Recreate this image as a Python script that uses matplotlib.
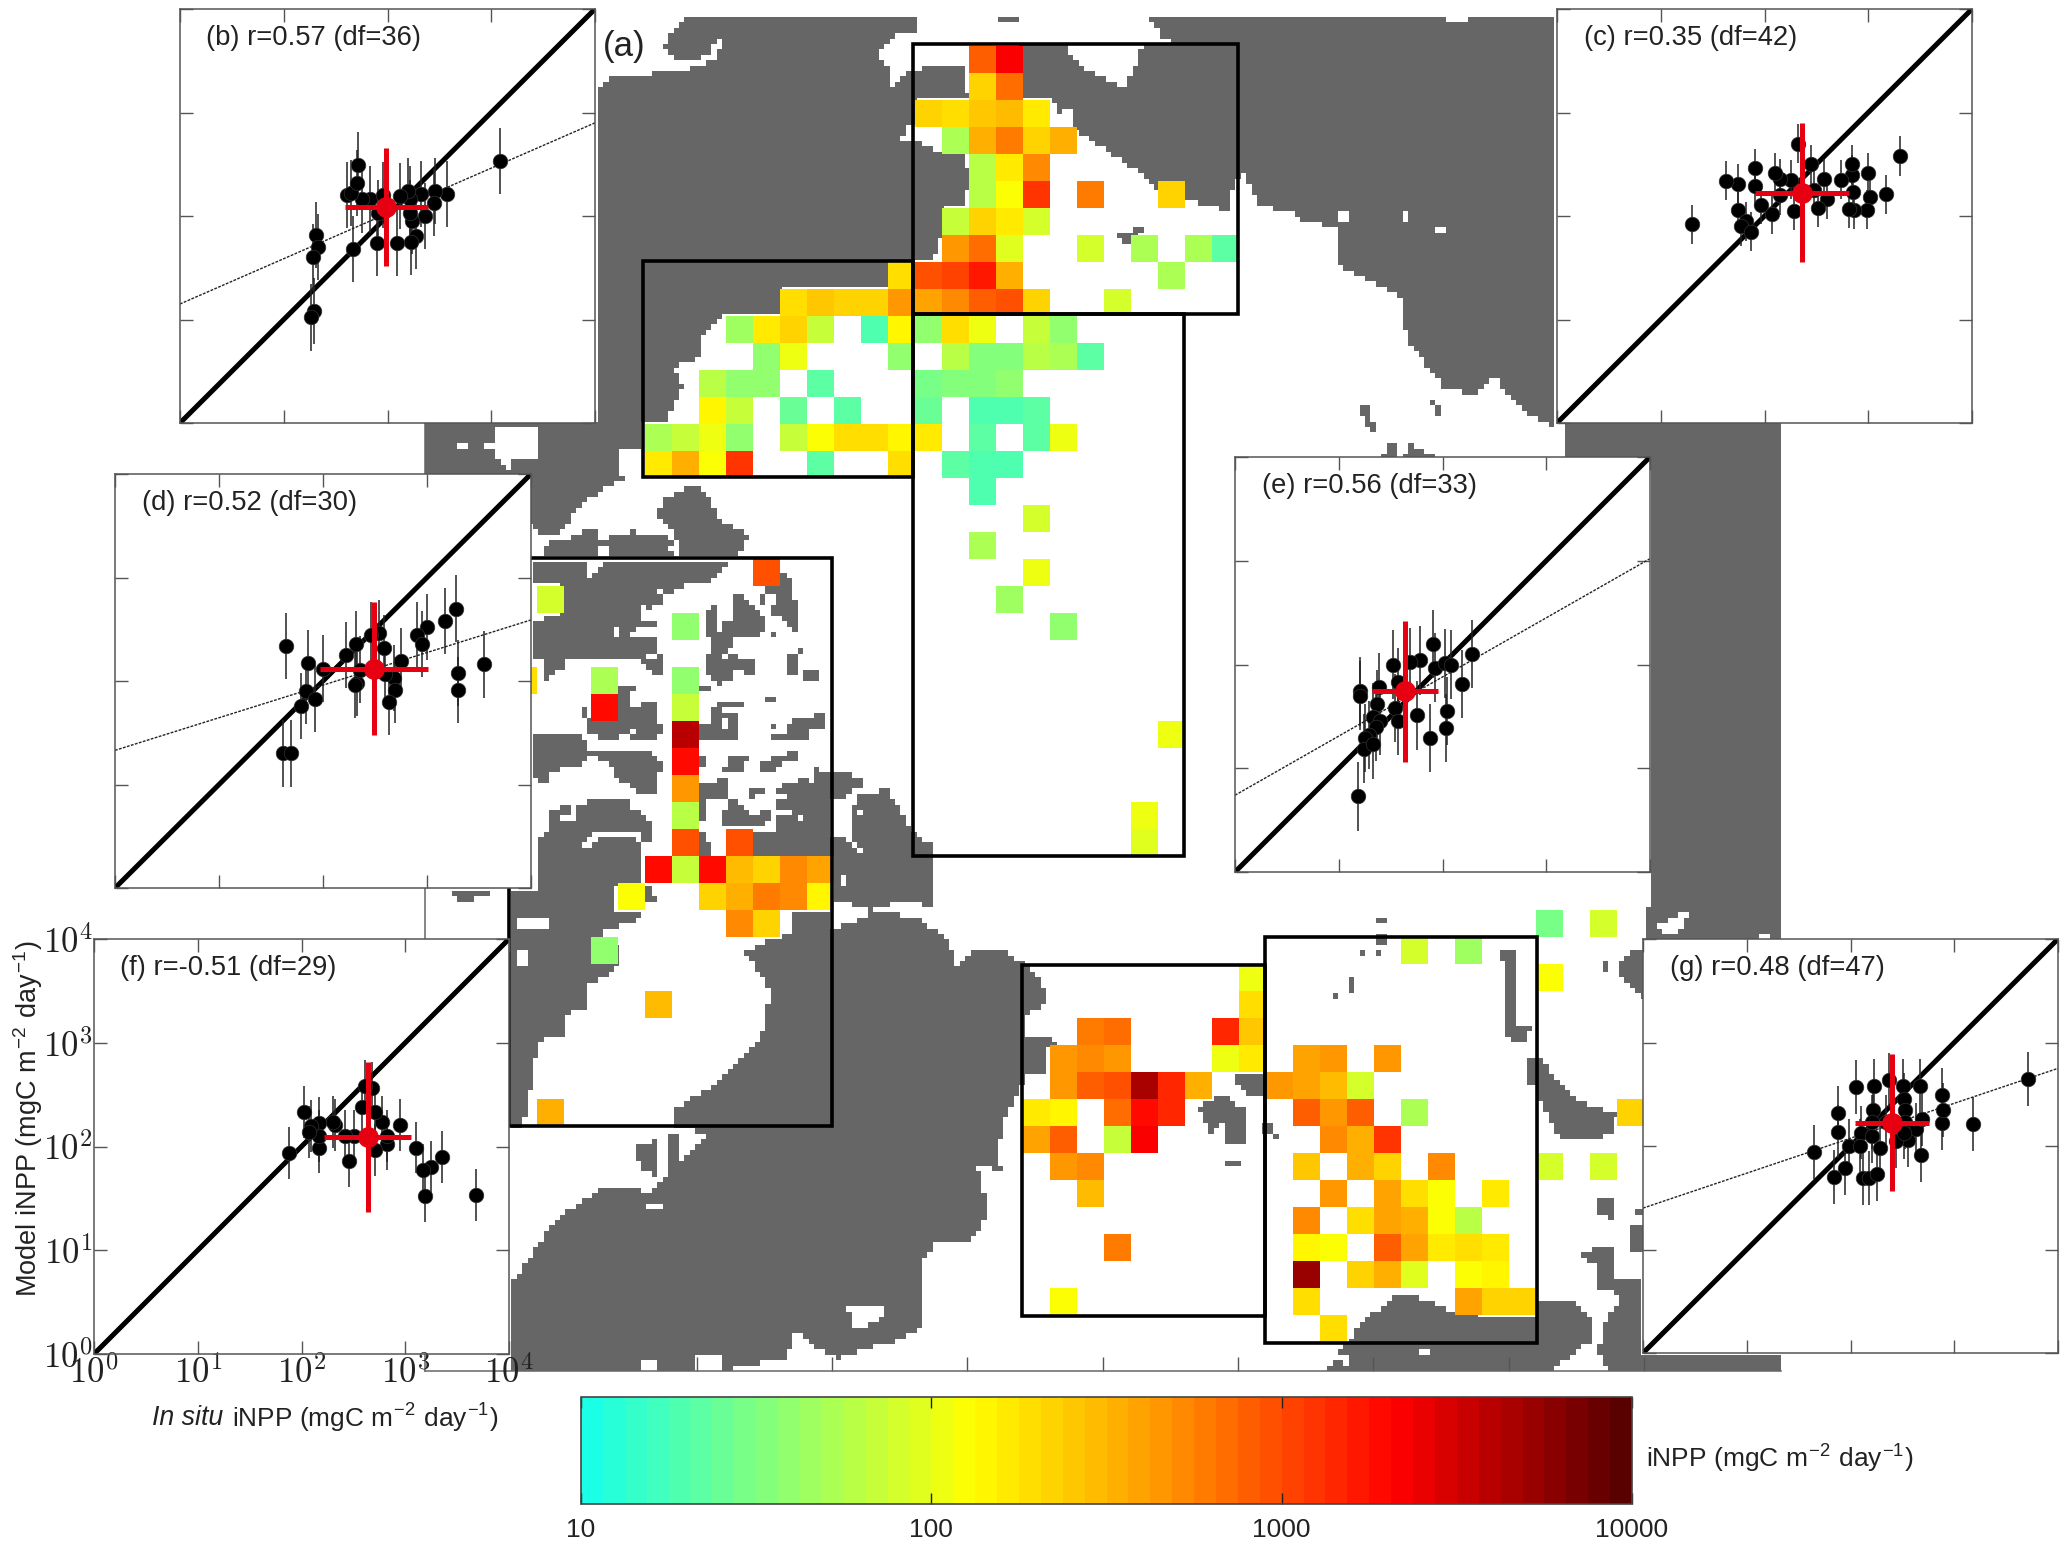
import numpy as np
import matplotlib
matplotlib.use("Agg")
import matplotlib.pyplot as plt
from matplotlib.colors import LinearSegmentedColormap, LogNorm, ListedColormap
from matplotlib.cm import ScalarMappable
from matplotlib.path import Path
from matplotlib.patches import Rectangle
from matplotlib.ticker import NullLocator, FixedLocator, FixedFormatter

plt.rcParams['font.family'] = ['Liberation Sans', 'DejaVu Sans']
plt.rcParams['mathtext.fontset'] = 'cm'

W, H = 2066, 1546

# -------- model grid cells: (column, row, iNPP) --------
CELLS = [
    (2, 0, 760), (3, 0, 2100),
    (2, 1, 224), (3, 1, 670),
    (0, 2, 224), (1, 2, 195), (2, 2, 245), (3, 2, 295), (4, 2, 170),
    (1, 3, 50), (2, 3, 365), (3, 3, 610), (4, 3, 224), (5, 3, 340),
    (2, 4, 60), (3, 4, 170), (4, 4, 540),
    (2, 5, 60), (3, 5, 125), (4, 5, 1200), (6, 5, 610), (9, 5, 224),
    (1, 6, 70), (2, 6, 224), (3, 6, 170), (4, 6, 80),
    (1, 7, 430), (2, 7, 670), (3, 7, 95), (6, 7, 85), (8, 7, 50), (10, 7, 55), (11, 7, 22),
    (-1, 8, 195), (0, 8, 990), (1, 8, 1100), (2, 8, 1700), (3, 8, 320), (9, 8, 50),
    (-5, 9, 195), (-4, 9, 255), (-3, 9, 224), (-2, 9, 224), (-1, 9, 430), (0, 9, 375),
    (1, 9, 510), (2, 9, 760), (3, 9, 870), (4, 9, 224), (7, 9, 75),
    (-7, 10, 48), (-6, 10, 170), (-5, 10, 224), (-4, 10, 70), (-2, 10, 20), (-1, 10, 147),
    (0, 10, 42), (1, 10, 195), (2, 10, 110), (4, 10, 70), (5, 10, 40),
    (-6, 11, 42), (-5, 11, 100), (-1, 11, 42), (1, 11, 60), (2, 11, 33), (3, 11, 33),
    (4, 11, 60), (5, 11, 52), (6, 11, 23),
    (-8, 12, 60), (-7, 12, 42), (-6, 12, 42), (-4, 12, 23), (0, 12, 28), (1, 12, 35),
    (2, 12, 35), (3, 12, 42),
    (-8, 13, 147), (-7, 13, 70), (-5, 13, 25), (-3, 13, 23), (0, 13, 25), (2, 13, 19),
    (3, 13, 18), (4, 13, 23),
    (-10, 14, 52), (-9, 14, 70), (-8, 14, 110), (-7, 14, 42), (-5, 14, 70), (-4, 14, 125),
    (-3, 14, 195), (-2, 14, 195), (-1, 14, 147), (0, 14, 165), (2, 14, 23), (4, 14, 23), (5, 14, 105),
    (-10, 15, 170), (-9, 15, 320), (-8, 15, 125), (-7, 15, 1200), (-4, 15, 23), (-1, 15, 195),
    (1, 15, 23), (2, 15, 20), (3, 15, 20),
    (2, 16, 20), (4, 17, 75), (2, 18, 52),
    (4, 19, 105), (-6, 19, 870), (3, 20, 48), (-14, 20, 85), (5, 21, 42), (-9, 21, 37),
    (-15, 23, 195), (-12, 23, 52), (-9, 23, 42),
    (-12, 24, 1800), (-9, 24, 70),
    (-9, 25, 4000), (9, 25, 110), (-9, 26, 2000), (-9, 27, 430), (-9, 28, 60), (8, 28, 110),
    (-9, 29, 870), (-7, 29, 870), (8, 29, 95),
    (-10, 30, 1800), (-9, 30, 70), (-8, 30, 1800), (-7, 30, 295), (-6, 30, 224), (-5, 30, 510), (-4, 30, 375),
    (-11, 31, 125), (-8, 31, 224), (-7, 31, 320), (-6, 31, 610), (-5, 31, 510), (-4, 31, 147),
    (-7, 32, 510), (-6, 32, 224), (23, 32, 30), (25, 32, 85),
    (-12, 33, 42), (18, 33, 80), (20, 33, 48),
    (12, 34, 110), (23, 34, 125),
    (-10, 35, 295), (12, 35, 195),
    (6, 36, 610), (7, 36, 670), (11, 36, 1500), (12, 36, 255),
    (5, 37, 450), (6, 37, 540), (7, 37, 430), (11, 37, 100), (12, 37, 170), (14, 37, 375),
    (15, 37, 475), (17, 37, 475),
    (5, 38, 430), (6, 38, 750), (7, 38, 870), (8, 38, 4500), (9, 38, 1450), (10, 38, 320),
    (13, 38, 450), (14, 38, 420), (15, 38, 295), (16, 38, 85),
    (-14, 39, 320), (4, 39, 170), (5, 39, 147), (7, 39, 670), (8, 39, 1900), (9, 39, 1450),
    (14, 39, 800), (15, 39, 450), (16, 39, 800), (18, 39, 55), (26, 39, 224),
    (4, 40, 375), (5, 40, 750), (7, 40, 70), (8, 40, 2100), (15, 40, 530), (16, 40, 340), (17, 40, 1300),
    (5, 41, 450), (6, 41, 510), (14, 41, 245), (16, 41, 340), (17, 41, 235), (19, 41, 530),
    (23, 41, 85), (25, 41, 78),
    (6, 42, 295), (15, 42, 475), (17, 42, 420), (18, 42, 180), (19, 42, 128), (21, 42, 170),
    (14, 43, 530), (16, 43, 195), (17, 43, 375), (18, 43, 340), (19, 43, 125), (20, 43, 62),
    (7, 44, 580), (14, 44, 147), (15, 44, 125), (17, 44, 760), (18, 44, 420), (19, 44, 165),
    (20, 44, 200), (21, 44, 160),
    (14, 45, 5000), (16, 45, 224), (17, 45, 340), (18, 45, 98), (20, 45, 130), (21, 45, 147),
    (5, 46, 125), (14, 46, 200), (20, 46, 385), (21, 46, 215), (22, 46, 215),
    (15, 47, 200),
]

LAND_TOP = [
    [(415, 48), (680, 48), (680, 85), (650, 100), (625, 150), (640, 190), (640, 255), (665, 205),
     (700, 180), (740, 190), (748, 275), (675, 275), (675, 350), (665, 350), (655, 390), (675, 395),
     (710, 425), (745, 430), (750, 520), (740, 570), (712, 580), (712, 650), (700, 730), (672, 730),
     (670, 800), (640, 800), (635, 805), (490, 805), (490, 880), (415, 880), (380, 945), (380, 1000),
     (345, 1030), (360, 1085), (345, 1130), (335, 1185), (305, 1185), (305, 1335), (275, 1340),
     (215, 1420), (190, 1500), (165, 1500), (150, 1460), (150, 1330), (5, 1330), (5, 1185), (240, 1185),
     (240, 250), (260, 220), (300, 215), (330, 200), (365, 195), (400, 165), (415, 120)],
    [(360, 48), (410, 50), (410, 100), (390, 160), (345, 165), (330, 130), (345, 90)],
    [(785, 50), (820, 50), (820, 65), (785, 65)],
    [(995, 50), (1400, 50), (1405, 68), (1430, 68), (1432, 50), (1550, 50), (1550, 1190), (1530, 1185),
     (1500, 1140), (1465, 1055), (1440, 1105), (1395, 1085), (1345, 950), (1340, 830), (1300, 790),
     (1250, 740), (1250, 640), (1200, 615), (1190, 590), (1145, 580), (1125, 490), (1110, 500),
     (1105, 590), (1045, 560), (1000, 520), (960, 450), (895, 370), (885, 280), (875, 330), (858, 270),
     (820, 270), (820, 130), (880, 130), (905, 190), (945, 235), (960, 255), (985, 130), (1030, 130),
     (1010, 100)],
    [(950, 650), (985, 640), (970, 690), (950, 670)],
    [(1275, 1130), (1290, 1130), (1305, 1215), (1290, 1190)],
    [(1378, 1110), (1398, 1150), (1385, 1170)],
    [(1310, 1280), (1325, 1225), (1335, 1280)],
    [(1340, 1280), (1350, 1245), (1385, 1280)],
]
SEA_TOP = [
    [(105, 1190), (165, 1190), (165, 1280), (130, 1280), (125, 1320), (105, 1290)],
    [(50, 1240), (65, 1240), (65, 1260), (50, 1260)],
    [(85, 1240), (100, 1240), (100, 1260), (85, 1260)],
    [(275, 1260), (300, 1260), (300, 1335), (275, 1335)],
    [(1385, 635), (1402, 635), (1402, 655), (1385, 655)],
    [(1252, 595), (1265, 595), (1265, 618), (1252, 618)],
    [(1337, 595), (1350, 595), (1350, 618), (1337, 618)],
]
LAND_MID = [
    [(460, 30), (510, 10), (530, 20), (560, 70), (610, 95), (590, 120), (560, 135), (490, 130), (480, 100), (450, 60)],
    [(245, 115), (300, 100), (345, 80), (350, 105), (375, 95), (410, 90), (420, 100), (450, 90), (480, 110)],
    [(190, 720), (370, 700), (375, 750), (420, 750), (410, 770), (340, 790), (380, 810), (380, 850), (330, 880),
     (330, 920), (290, 930), (290, 970), (240, 975), (235, 1020), (215, 1125), (190, 1125)],
    [(80, 712), (185, 712), (140, 725), (110, 738)],
    [(800, 550), (850, 540), (890, 610), (930, 640), (930, 745), (880, 730), (820, 750), (755, 730), (750, 655), (795, 650)],
    [(680, 755), (750, 755), (755, 785), (830, 750), (910, 765), (960, 810), (970, 850), (1000, 815),
     (1050, 820), (1090, 845), (1110, 860), (1130, 910), (1090, 930), (1085, 970), (1150, 965),
     (1085, 1000), (1085, 1050), (1050, 1120), (1040, 1190), (1050, 1205), (1005, 1190), (1025, 1280),
     (1000, 1320), (950, 1330), (975, 1350), (915, 1345), (905, 1480), (860, 1500), (760, 1530),
     (690, 1490), (670, 1530), (560, 1552), (190, 1552), (190, 1410), (270, 1290), (360, 1230),
     (440, 1240), (540, 1140), (480, 1125), (480, 1095), (560, 1045), (630, 970), (645, 890), (600, 820), (680, 790)],
    [(410, 1160), (450, 1150), (445, 1210), (420, 1200)],
    [(468, 1140), (482, 1140), (482, 1200), (470, 1200)],
]
SEA_MID = [
    [(425, 1258), (458, 1258), (458, 1272), (425, 1272)],
    [(780, 1440), (850, 1440), (830, 1470), (790, 1475)],
    [(925, 1325), (970, 1325), (970, 1340), (925, 1355)],
    [(682, 1490), (700, 1490), (700, 1530), (682, 1530)],
    [(205, 760), (260, 760), (260, 780), (205, 780)],
    [(200, 820), (225, 820), (225, 845), (200, 845)],
    [(510, 1525), (560, 1525), (560, 1552), (510, 1552)],
    [(420, 1535), (450, 1535), (450, 1552), (420, 1552)],
]
# archipelago, from a closer crop
LAND_ARC = [
    [(35, 20), (110, 20), (120, 0), (210, 0), (205, 30), (195, 50), (35, 50)],
    [(240, 20), (260, 0), (320, 0), (320, 15), (395, 15), (435, 40), (440, 50), (240, 50)],
    [(440, 10), (640, 0), (640, 30), (620, 50), (460, 50), (455, 20)],
    [(15, 60), (175, 60), (175, 115), (195, 115), (195, 95), (235, 60), (600, 60), (560, 100), (555, 115), (540, 135),
     (460, 135), (430, 155), (400, 160), (400, 190), (380, 195), (360, 215), (340, 195), (335, 235), (378, 240),
     (378, 255), (340, 260), (300, 280), (300, 298), (378, 300), (378, 340), (395, 340), (398, 400), (360, 400),
     (340, 375), (340, 360), (115, 360), (110, 385), (75, 385), (50, 420), (35, 440), (35, 360), (5, 350), (5, 240),
     (50, 240), (35, 220), (95, 220), (95, 135), (10, 135)],
    [(520, 215), (540, 215), (555, 195), (560, 280), (580, 280), (585, 240), (605, 235), (605, 180), (630, 160),
     (660, 180), (685, 215), (705, 225), (700, 280), (680, 295), (605, 300), (595, 345), (620, 345), (620, 360),
     (680, 360), (680, 400), (640, 400), (620, 380), (600, 420), (565, 440), (525, 400), (520, 340), (540, 340),
     (540, 300), (525, 280)],
    [(685, 160), (705, 160), (705, 195), (685, 195)],
    [(705, 140), (750, 95), (785, 120), (785, 180), (805, 180), (805, 275), (785, 275), (765, 240), (725, 225),
     (725, 200), (750, 180), (720, 165)],
    [(725, 280), (745, 280), (745, 298), (725, 298)],
    [(765, 340), (805, 340), (805, 400), (765, 400)],
    [(805, 320), (825, 320), (825, 340), (805, 340)],
    [(825, 382), (866, 382), (866, 420), (825, 420)],
    [(500, 442), (540, 442), (540, 460), (500, 460)],
    [(705, 462), (745, 462), (745, 480), (705, 480)],
    [(258, 445), (315, 445), (315, 460), (300, 460), (300, 500), (340, 500), (340, 482), (378, 482), (378, 545),
     (398, 545), (398, 580), (360, 600), (300, 590), (280, 585), (250, 600), (215, 600), (175, 580), (175, 545),
     (155, 540), (155, 505), (175, 505), (175, 540), (258, 540)],
    [(5, 600), (20, 585), (155, 585), (175, 625), (355, 625), (360, 645), (398, 670), (398, 700), (378, 700),
     (378, 765), (340, 765), (300, 740), (260, 720), (250, 680), (190, 645), (170, 660), (155, 680), (95, 685),
     (50, 705), (50, 725), (30, 725), (30, 705), (5, 705)],
    [(500, 545), (540, 545), (545, 500), (565, 485), (640, 485), (640, 500), (580, 505), (580, 520), (620, 525),
     (620, 600), (500, 600)],
    [(500, 645), (520, 645), (520, 680), (500, 680)],
    [(580, 680), (605, 645), (660, 645), (660, 660), (640, 665), (640, 700), (590, 705)],
    [(685, 680), (725, 650), (765, 645), (775, 625), (805, 625), (805, 660), (765, 665), (725, 700), (685, 705)],
    [(725, 585), (765, 585), (765, 565), (800, 525), (805, 540), (845, 540), (845, 525), (885, 525), (885, 560),
     (845, 565), (825, 600), (725, 600)],
    [(725, 545), (745, 545), (745, 560), (725, 560)],
    [(500, 730), (560, 725), (565, 705), (600, 705), (600, 770), (580, 785), (560, 765), (520, 790), (520, 845), (500, 845)],
    [(665, 745), (700, 745), (700, 760), (680, 765), (680, 785), (665, 785)],
    [(745, 745), (765, 725), (805, 725), (805, 705), (825, 705), (845, 725), (850, 685), (1005, 710), (1005, 745),
     (945, 760), (945, 785), (905, 785), (905, 950), (665, 950), (665, 870), (745, 870), (745, 830), (800, 830),
     (825, 845), (805, 825), (745, 805), (745, 785), (765, 770), (745, 765)],
    [(580, 810), (605, 770), (620, 785), (640, 805), (665, 825), (690, 825), (700, 805), (725, 810), (725, 835),
     (680, 865), (665, 865), (580, 865)],
    [(500, 870), (520, 870), (520, 905), (540, 910), (540, 950), (500, 950)],
    [(55, 810), (90, 810), (100, 785), (115, 790), (115, 825), (135, 825), (135, 790), (175, 785), (185, 765),
     (195, 785), (295, 785), (300, 805), (340, 810), (340, 825), (358, 850), (358, 905), (340, 905), (335, 950),
     (335, 1030), (258, 1030), (240, 1050), (258, 1060), (258, 1080), (30, 1080), (30, 885), (55, 870)],
    [(340, 1030), (358, 1030), (378, 1080), (340, 1080)],
    [(965, 800), (1010, 790), (1010, 770), (1060, 745), (1080, 750), (1080, 1080), (905, 1080), (905, 885), (945, 885), (965, 910)],
]
SEA_ARC = [
    [(255, 260), (275, 260), (275, 300), (255, 300)],
    [(378, 140), (397, 140), (397, 157), (378, 157)],
    [(355, 340), (378, 340), (378, 358), (355, 358)],
    [(580, 340), (600, 340), (600, 360), (580, 360)],
    [(298, 565), (316, 565), (316, 582), (298, 582)],
    [(580, 540), (600, 540), (600, 560), (580, 560)],
    [(195, 870), (320, 870), (340, 905), (320, 905), (300, 885), (215, 885), (195, 905), (175, 925), (155, 925), (155, 905), (195, 885)],
    [(95, 825), (135, 825), (135, 850), (95, 850)],
    [(985, 805), (1005, 805), (1005, 825), (985, 825)],
    [(965, 910), (1005, 930), (1005, 947), (975, 930)],
    [(925, 1010), (945, 1010), (945, 1030), (925, 1030)],
]
LAND_LOW = [
    [(45, 480), (150, 480), (95, 500), (95, 580), (50, 590)],
    [(45, 260), (80, 290), (95, 370), (55, 390), (45, 380)],
    [(390, 680), (430, 640), (480, 690), (480, 800), (440, 800), (440, 730), (410, 760)],
    [(440, 843), (467, 843), (467, 862), (440, 862)],
    [(455, 580), (520, 580), (520, 640), (480, 640)],
    [(508, 722), (530, 730), (547, 780), (520, 760)],
    [(735, 112), (760, 112), (760, 132), (735, 132)],
    [(735, 155), (760, 175), (760, 192), (735, 192)],
    [(708, 214), (720, 214), (720, 234), (708, 234)],
    [(733, 214), (746, 214), (746, 234), (733, 234)],
    [(680, 295), (693, 295), (693, 335), (680, 335)],
    [(655, 335), (667, 335), (667, 355), (655, 355)],
    [(975, 215), (1010, 215), (1010, 430), (1040, 440), (1030, 490), (1000, 495), (988, 430), (988, 240)],
    [(1030, 540), (1060, 540), (1130, 660), (1210, 700), (1200, 760), (1170, 780), (1095, 780), (1065, 680), (1050, 615), (1030, 615)],
    [(1210, 245), (1240, 215), (1262, 215), (1262, 350), (1210, 290)],
    [(1185, 235), (1197, 235), (1197, 270), (1185, 270)],
    [(1170, 945), (1210, 970), (1195, 1020), (1170, 990)],
    [(1240, 985), (1262, 985), (1262, 1005), (1240, 1005)],
    [(1238, 1030), (1262, 1030), (1262, 1125), (1238, 1125)],
    [(1135, 1130), (1170, 1105), (1200, 1105), (1200, 1190), (1250, 1190), (1262, 1472), (1200, 1472),
     (1170, 1420), (1190, 1310), (1220, 1250), (1170, 1220), (1165, 1150)],
    [(640, 1472), (660, 1430), (700, 1350), (740, 1290), (770, 1250), (810, 1250), (850, 1270), (890, 1300),
     (1050, 1310), (1050, 1270), (1130, 1270), (1155, 1310), (1155, 1385), (1100, 1450), (1080, 1472)],
    [(1200, 1420), (1530, 1420), (1530, 1472), (1200, 1472)],
]
SEA_LOW = [
    [(825, 1410), (842, 1410), (842, 1432), (825, 1432)],
    [(655, 1432), (690, 1410), (680, 1450)],
    [(1290, 130), (1350, 95), (1330, 160), (1295, 160)],
    [(1490, 155), (1505, 155), (1505, 175), (1490, 175)],
]
# block of land that runs on behind panels c and e, in map pixels
LAND_EAST = [(1557, 17), (1781, 17), (1781, 940), (1645, 940), (1652, 880), (1650, 457), (1564, 457), (1564, 423), (1557, 423)]

# black study-region boxes: left, top, right, bottom in map pixels
REGIONS = [(913, 44, 1238, 314), (643, 261, 913, 477), (913, 314, 1184, 856),
           (509, 558, 832, 1126), (1022, 965, 1265, 1316), (1265, 937, 1537, 1343)]
MAP_TICKS = [697, 832, 967, 1103, 1238, 1373, 1509, 1644]

# -------- scatter panels, log10 of in situ and model iNPP --------
B_X = [3.08, 2.57, 2.46, 2.45, 2.36, 2.32, 2.27, 2.23, 2.24, 2.22, 2.22, 2.20, 2.12, 2.09, 1.90, 1.91, 1.83, 1.96, 1.75, 1.61, 1.65, 1.72, 1.71, 1.67, 1.31, 1.33, 1.28, 1.29, 1.26]
B_Y = [2.53, 2.21, 2.24, 2.13, 2.00, 2.21, 1.81, 1.75, 1.95, 2.03, 2.16, 2.24, 2.19, 1.74, 1.74, 2.03, 2.16, 2.20, 2.16, 2.20, 2.22, 2.49, 2.32, 1.68, 1.82, 1.70, 1.60, 1.08, 1.02]
C_X = [3.31, 3.17, 3.02, 3.00, 2.99, 2.86, 2.81, 2.85, 2.84, 2.84, 2.74, 2.60, 2.57, 2.52, 2.45, 2.48, 2.32, 2.28, 2.26, 2.15, 2.10, 2.15, 2.07, 1.97, 1.91, 1.91, 1.74, 1.63, 1.74, 1.82, 1.77, 1.87, 1.30]
C_Y = [2.58, 2.21, 2.18, 2.42, 2.06, 2.06, 2.07, 2.23, 2.40, 2.50, 2.35, 2.16, 2.36, 2.08, 2.50, 2.25, 2.70, 2.05, 2.35, 2.36, 2.42, 2.20, 2.02, 2.11, 2.29, 2.46, 2.31, 2.34, 2.06, 1.95, 1.90, 1.85, 1.92]
D_X = [3.55, 3.28, 3.17, 3.30, 3.30, 3.00, 2.90, 2.95, 2.75, 2.68, 2.69, 2.63, 2.59, 2.54, 2.46, 2.60, 2.32, 2.22, 2.33, 2.31, 2.36, 2.00, 1.86, 1.64, 1.84, 1.92, 1.79, 1.62, 1.69]
D_Y = [2.16, 2.70, 2.58, 2.08, 1.91, 2.52, 2.44, 2.36, 2.19, 2.03, 1.91, 1.80, 2.32, 2.46, 2.44, 2.07, 2.36, 2.25, 1.98, 1.96, 2.11, 2.12, 2.17, 2.34, 1.90, 1.83, 1.76, 1.30, 1.30]
E_X = [2.28, 2.19, 1.91, 2.04, 2.03, 1.88, 1.75, 1.78, 1.69, 1.52, 1.93, 2.02, 2.08, 1.57, 1.39, 1.20, 1.20, 1.37, 1.54, 1.57, 1.33, 1.40, 1.36, 1.29, 1.25, 1.24, 1.33, 1.19]
E_Y = [2.10, 1.81, 2.20, 1.55, 1.39, 1.29, 1.51, 2.04, 2.02, 2.00, 1.97, 2.01, 2.00, 1.83, 1.78, 1.74, 1.70, 1.62, 1.58, 1.46, 1.49, 1.46, 1.40, 1.32, 1.29, 1.19, 1.23, 0.73]
F_X = [3.68, 3.35, 3.25, 3.17, 3.19, 3.10, 2.95, 2.82, 2.82, 2.78, 2.71, 2.71, 2.68, 2.61, 2.58, 2.51, 2.46, 2.42, 2.32, 2.30, 2.17, 2.17, 2.17, 2.09, 2.07, 2.02, 1.88]
F_Y = [1.53, 1.90, 1.80, 1.77, 1.52, 1.99, 2.21, 2.02, 2.10, 2.24, 2.33, 1.97, 2.56, 2.58, 2.38, 2.10, 1.86, 2.10, 2.21, 2.24, 2.23, 1.99, 2.10, 2.20, 2.14, 2.33, 1.94]
G_X = [3.71, 3.18, 2.88, 2.89, 2.88, 2.67, 2.68, 2.51, 2.37, 2.23, 2.05, 2.22, 1.88, 1.88, 1.65, 1.99, 1.95, 1.84, 2.12, 2.18, 2.26, 2.10, 2.21, 2.28, 2.09, 2.21, 2.52, 2.53, 2.53, 2.55, 2.63, 2.69, 2.44, 2.52, 2.34]
G_Y = [2.65, 2.21, 2.22, 2.35, 2.49, 2.58, 1.91, 2.58, 2.64, 2.58, 2.57, 2.35, 2.32, 2.14, 1.94, 2.00, 1.79, 1.70, 1.69, 1.69, 1.73, 2.13, 2.10, 1.98, 2.00, 2.23, 2.45, 2.35, 2.23, 2.06, 2.16, 2.26, 2.05, 2.13, 2.23]

PANELS = [
    # label, box in pixels, x, y, point error, mean (x, y, xerr, yerr), regression ends (y at 1, y at 1e4)
    ('(b) r=0.57 (df=36)', (180, 9, 595, 423), B_X, B_Y, 0.32, (1.99, 2.085, 0.40, 0.57), (1.15, 2.90)),
    ('(c) r=0.35 (df=42)', (1557, 9, 1972, 423), C_X, C_Y, 0.19, (2.36, 2.225, 0.455, 0.67), None),
    ('(d) r=0.52 (df=30)', (115, 474, 531, 888), D_X, D_Y, 0.32, (2.49, 2.12, 0.52, 0.64), (1.33, 2.59)),
    ('(e) r=0.56 (df=33)', (1235, 457, 1650, 872), E_X, E_Y, 0.33, (1.64, 1.74, 0.32, 0.675), (0.74, 3.02)),
    ('(f) r=-0.51 (df=29)', (94, 939, 509, 1354), F_X, F_Y, 0.25, (2.64, 2.09, 0.42, 0.725), None),
    ('(g) r=0.48 (df=47)', (1643, 939, 2058, 1353), G_X, G_Y, 0.26, (2.40, 2.225, 0.355, 0.66), (1.40, 2.75)),
]

CBAR_TICKS = [10, 100, 1000, 10000]
CBAR_LABELS = ['10', '100', '1000', '10000']
DECADES = [1, 10, 100, 1000, 10000]
DECADE_LABELS = [r'$10^{0}$', r'$10^{1}$', r'$10^{2}$', r'$10^{3}$', r'$10^{4}$']


def px_axes(l, t, r, b, **kw):
    return fig.add_axes([l / W, 1 - b / H, (r - l) / W, (b - t) / H], **kw)


def from_top(pts):
    return [(420 + x / 1.3635, y / 2.8) for x, y in pts]


def from_mid(pts):
    return [(400 + x / 1.742, 480 + y / 1.742) for x, y in pts]


def from_arc(pts):
    return [(530 + x / 3.0, 540 + y / 3.0) for x, y in pts]


def from_low(pts):
    return [(1000 + x / 1.96, 880 + y / 3.0) for x, y in pts]


fig = plt.figure(figsize=(W / 100, H / 100), dpi=100)

cmap = LinearSegmentedColormap.from_list(
    'npp', [(0, (0.1, 1, 0.9)), (0.367, (1, 1, 0)), (0.55, (1, 0.6, 0)), (0.78, (1, 0, 0)), (1, (0.35, 0, 0))], N=48)
norm = LogNorm(10, 10000)

# map
MX0, MX1, MY0, MY1 = 425, 1781, 17, 1371
ax = px_axes(MX0, MY0, MX1, MY1, zorder=1)
ax.set_xlim(MX0, MX1)
ax.set_ylim(MY1, MY0)

nx, ny = 251, 251
xe = np.linspace(MX0, MX1, nx + 1)
ye = np.linspace(MY0, MY1, ny + 1)
xc, yc = np.meshgrid((xe[:-1] + xe[1:]) / 2, (ye[:-1] + ye[1:]) / 2)
pts = np.column_stack([xc.ravel(), yc.ravel()])
land = np.zeros(pts.shape[0], dtype=bool)
all_land = [from_top(p) for p in LAND_TOP] + [from_mid(p) for p in LAND_MID] + [from_arc(p) for p in LAND_ARC] + [from_low(p) for p in LAND_LOW] + [LAND_EAST]
all_sea = [from_top(p) for p in SEA_TOP] + [from_mid(p) for p in SEA_MID] + [from_arc(p) for p in SEA_ARC] + [from_low(p) for p in SEA_LOW]
for poly in all_land:
    land |= Path(poly + [poly[0]]).contains_points(pts)
for poly in all_sea:
    land &= ~Path(poly + [poly[0]]).contains_points(pts)
ax.pcolormesh(xe, ye, land.reshape(ny, nx).astype(float), cmap=ListedColormap(['white', '#666666']), vmin=0, vmax=1, zorder=1)

# model cells sit on a 27 px grid
cols = np.array([c[0] for c in CELLS])
rows = np.array([c[1] for c in CELLS])
vals = np.array([c[2] for c in CELLS], dtype=float)
col_edges = 915 + 27 * np.arange(cols.min(), cols.max() + 2)
row_edges = 46.4 + 27 * np.arange(rows.min(), rows.max() + 2)
grid = np.full((len(row_edges) - 1, len(col_edges) - 1), np.nan)
grid[rows - rows.min(), cols - cols.min()] = vals
ax.pcolormesh(col_edges, row_edges, np.ma.masked_invalid(grid), cmap=cmap, norm=norm, zorder=2)

for l, t, r, b in REGIONS:
    ax.add_patch(Rectangle((l, t), r - l, b - t, fill=False, ec='black', lw=2.6, zorder=3))

ax.spines['top'].set_visible(False)
ax.spines['right'].set_visible(False)
for s in ['left', 'bottom']:
    ax.spines[s].set_color('#666666')
    ax.spines[s].set_linewidth(1.1)
ax.set_xticks(MAP_TICKS)
ax.set_xticklabels([])
ax.set_yticks([])
ax.tick_params(axis='x', direction='in', length=10, width=1, color='#555555')
ax.text(603, 47, '(a)', fontsize=25, va='center', ha='left', color='#222222', zorder=4)

# scatter insets
for i, (label, box, x, y, err, mean, reg) in enumerate(PANELS):
    a = px_axes(*box, zorder=5 + i)
    a.set_xscale('log')
    a.set_yscale('log')
    a.set_xlim(1, 1e4)
    a.set_ylim(1, 1e4)
    a.plot([1, 1e4], [1, 1e4], color='black', lw=3.6, solid_capstyle='butt', zorder=2)
    if reg is not None:
        a.plot([1, 1e4], [10 ** reg[0], 10 ** reg[1]], color='#222222', lw=1.0, ls=(0, (2, 1)), zorder=2)
    xv = 10 ** np.array(x)
    yv = 10 ** np.array(y)
    a.errorbar(xv, yv, yerr=[yv - yv / 10 ** err, yv * 10 ** err - yv], fmt='o', ms=10.5, mfc='black',
               mec='#333333', mew=0.5, ecolor='#222222', elinewidth=1.1, zorder=3)
    mx, my, mxe, mye = mean
    a.errorbar([10 ** mx], [10 ** my],
               xerr=[[10 ** mx - 10 ** (mx - mxe)], [10 ** (mx + mxe) - 10 ** mx]],
               yerr=[[10 ** my - 10 ** (my - mye)], [10 ** (my + mye) - 10 ** my]],
               fmt='o', ms=14, color='#e60012', elinewidth=3.6, zorder=4)
    a.text(26.5 / 415, 1 - 29 / 415, label, transform=a.transAxes, fontsize=19.7, va='center', ha='left', color='#222222')
    for s in a.spines.values():
        s.set_color('#555555')
        s.set_linewidth(1.1)
    for axis in [a.xaxis, a.yaxis]:
        axis.set_major_locator(FixedLocator(DECADES))
        axis.set_minor_locator(NullLocator())
    a.tick_params(which='major', direction='in', length=9.5, width=1, color='#555555',
                  top=True, right=True, labelbottom=False, labelleft=False)
    if label.startswith('(f)'):
        a.xaxis.set_major_formatter(FixedFormatter(DECADE_LABELS))
        a.yaxis.set_major_formatter(FixedFormatter(DECADE_LABELS))
        a.tick_params(labelbottom=True, labelleft=True, labelsize=25, pad=1, labelcolor='#222222')

# axis titles, on the outer figure
fig.text(28 / W, 1 - 1119 / H, r'Model iNPP (mgC m$^{\mathregular{-2}}$ day$^{\mathregular{-1}}$)', rotation=90,
         fontsize=19.5, va='center', ha='center', color='#222222', zorder=20)
fig.text(223 / W, 1 - 1418 / H, 'In situ', style='italic', fontsize=19.3, va='center', ha='right', color='#222222', zorder=20)
fig.text(232 / W, 1 - 1418 / H, r'iNPP (mgC m$^{\mathregular{-2}}$ day$^{\mathregular{-1}}$)', fontsize=18.9,
         va='center', ha='left', color='#222222', zorder=20)

# colour bar
cax = px_axes(581, 1397, 1632, 1504, zorder=6)
cb = fig.colorbar(ScalarMappable(norm=norm, cmap=cmap), cax=cax, orientation='horizontal')
cb.set_ticks(CBAR_TICKS, labels=CBAR_LABELS)
cb.ax.xaxis.set_minor_locator(NullLocator())
cb.ax.tick_params(axis='x', direction='in', length=8, width=1, color='#222222', top=True, labelsize=19, pad=10, labelcolor='#222222')
cb.outline.set_edgecolor('#444444')
cb.outline.set_linewidth(1.2)
fig.text(1646 / W, 1 - 1458 / H, r'iNPP (mgC m$^{\mathregular{-2}}$ day$^{\mathregular{-1}}$)', fontsize=19,
         va='center', ha='left', color='#222222')

fig.savefig('out.png', dpi=100)
